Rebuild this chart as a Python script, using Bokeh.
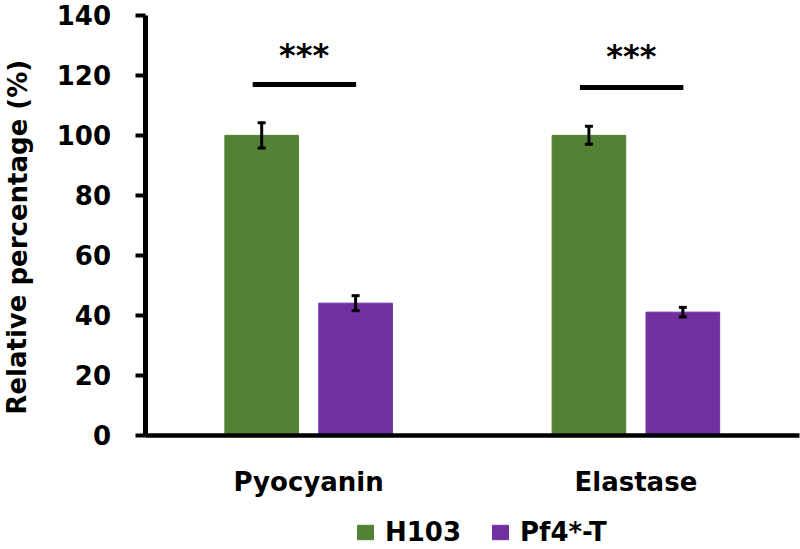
from bokeh.plotting import figure
from bokeh.models import (ColumnDataSource, Range1d, Whisker, Legend,
                          LegendItem, Label)
from bokeh.core.properties import value
from bokeh.embed import file_html
from bokeh.resources import INLINE

# ---- data ----
categories = ["Pyocyanin", "Elastase"]
series_names = ["H103", "Pf4*-T"]
h103_values = [100, 100]
h103_errors = [4.2, 3.0]
pf4_values = [44, 41]
pf4_errors = [2.5, 1.6]
sig_text = ["***", "***"]
sig_line_y = [117, 116]
sig_text_y = [126.7, 126.4]
y_ticks = [0, 20, 40, 60, 80, 100, 120, 140]
y_max = 140
y_title = "Relative percentage (%)"

colors = ["#538135", "#7030A0"]
FONT = "DejaVu Sans"

# category slots: each category occupies one unit, centred at i + 0.5
n = len(categories)
cat_x = [i + 0.5 for i in range(n)]
off = 0.1435      # dodge of each bar from the category centre
bw = 0.225        # bar width
sig_x0 = -0.171   # significance line start/end (relative to centre)
sig_x1 = 0.145
star_dx = -0.014

src = ColumnDataSource(dict(
    x1=[c - off for c in cat_x],
    x2=[c + off for c in cat_x],
    h103=h103_values,
    h103_up=[v + e for v, e in zip(h103_values, h103_errors)],
    h103_lo=[v - e for v, e in zip(h103_values, h103_errors)],
    pf4=pf4_values,
    pf4_up=[v + e for v, e in zip(pf4_values, pf4_errors)],
    pf4_lo=[v - e for v, e in zip(pf4_values, pf4_errors)],
    sx0=[c + sig_x0 for c in cat_x],
    sx1=[c + sig_x1 for c in cat_x],
    stx=[c + star_dx for c in cat_x],
    sig=sig_text,
    sig_line_y=sig_line_y,
    sig_text_y=sig_text_y,
))

W, H = 800, 549
# plot area occupies the whole canvas; axes are pinned at x=0 / y=0
x_lo, x_hi = -0.4416, 2.003
y_lo, y_hi = -38.2, 145.0

p = figure(x_range=Range1d(x_lo, x_hi), y_range=Range1d(y_lo, y_hi),
           width=W, height=H,
           output_backend="svg", toolbar_location=None,
           min_border_left=0, min_border_right=0,
           min_border_top=0, min_border_bottom=0)

r1 = p.vbar(x="x1", top="h103", width=bw, source=src,
            fill_color=colors[0], line_color=colors[0])
r2 = p.vbar(x="x2", top="pf4", width=bw, source=src,
            fill_color=colors[1], line_color=colors[1])

for base, up, lo in [("x1", "h103_up", "h103_lo"), ("x2", "pf4_up", "pf4_lo")]:
    w = Whisker(source=src, base=base, upper=up, lower=lo,
                line_width=3, line_color="black", level="annotation")
    for h in (w.upper_head, w.lower_head):
        h.size = 8
        h.line_width = 3
        h.line_color = "black"
    p.add_layout(w)

p.segment(x0="sx0", y0="sig_line_y", x1="sx1", y1="sig_line_y",
          source=src, line_width=5, line_color="black")
p.text(x="stx", y="sig_text_y", text="sig",
       source=src, text_font=value(FONT), text_font_size="32px",
       text_font_style="bold", text_align="center", text_baseline="alphabetic",
       text_color="black")

# axes
p.xgrid.visible = False
p.ygrid.visible = False
p.outline_line_color = None

p.yaxis.fixed_location = 0
p.yaxis.bounds = (0, y_max)
p.yaxis.ticker = y_ticks
p.yaxis.axis_line_width = 5
p.yaxis.axis_line_color = "black"
p.yaxis.major_tick_line_width = 4
p.yaxis.major_tick_line_color = "black"
p.yaxis.major_tick_out = 10
p.yaxis.major_tick_in = 0
p.yaxis.minor_tick_out = 0
p.yaxis.minor_tick_in = 0
p.yaxis.major_label_standoff = 24
p.yaxis.major_label_text_font = FONT
p.yaxis.major_label_text_font_size = "26px"
p.yaxis.major_label_text_font_style = "bold"
p.yaxis.major_label_text_color = "black"

p.xaxis.fixed_location = 0
p.xaxis.bounds = (0, n)
p.xaxis.ticker = cat_x
p.xaxis.major_label_overrides = {x: c for x, c in zip(cat_x, categories)}
p.xaxis.axis_line_width = 4.5
p.xaxis.axis_line_color = "black"
p.xaxis.major_tick_out = 0
p.xaxis.major_tick_in = 0
p.xaxis.minor_tick_out = 0
p.xaxis.minor_tick_in = 0
p.xaxis.major_label_standoff = 32
p.xaxis.major_label_text_font = FONT
p.xaxis.major_label_text_font_size = "26px"
p.xaxis.major_label_text_font_style = "bold"
p.xaxis.major_label_text_color = "black"

title = Label(x=17, y=66, x_units="screen", y_units="data", text=y_title,
              angle=1.5707963, text_align="center", text_baseline="middle",
              text_font=FONT, text_font_size="26px", text_font_style="bold",
              text_color="black")
p.add_layout(title)

legend = Legend(items=[LegendItem(label=series_names[0], renderers=[r1]),
                       LegendItem(label=series_names[1], renderers=[r2])],
                orientation="horizontal", location=(355, 2),
                glyph_width=20, glyph_height=18, label_standoff=10, spacing=29,
                padding=0, margin=0, border_line_color=None,
                background_fill_alpha=0,
                label_text_font=FONT, label_text_font_size="26px",
                label_text_font_style="bold", label_text_color="black")
p.add_layout(legend)

open("out.html", "w").write(file_html(p, INLINE))
